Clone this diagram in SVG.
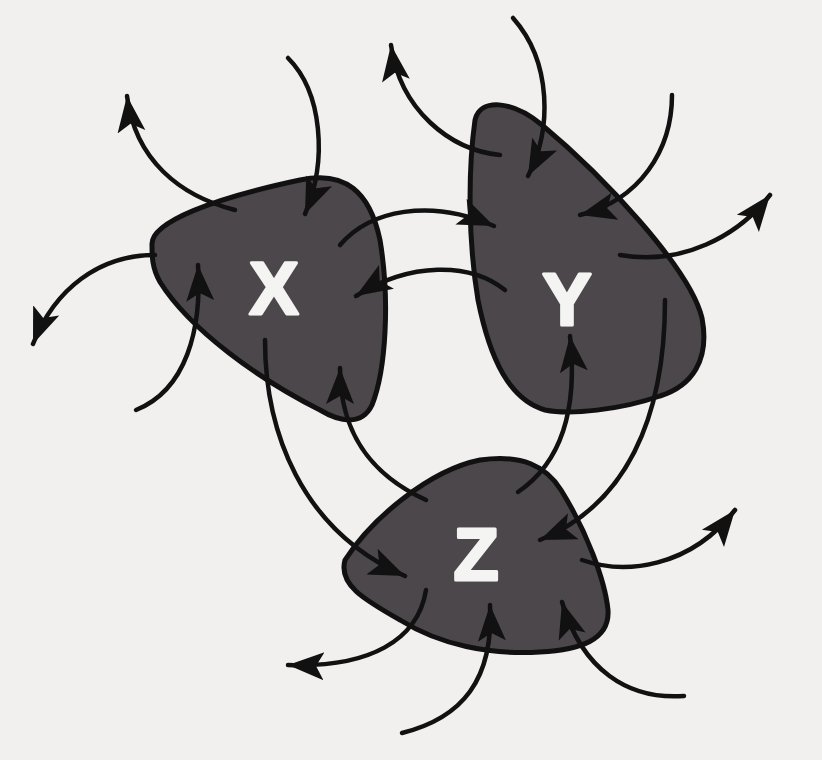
<svg xmlns="http://www.w3.org/2000/svg" width="822" height="760" viewBox="0 0 822 760">
<defs>
<style>
.blob{fill:#4b474b;stroke:#111;stroke-width:5;stroke-linejoin:round}
.lbl{font-family:"Liberation Sans",Arial,sans-serif;font-weight:bold;font-size:74px;fill:#f4f4f2;stroke:#f4f4f2;stroke-width:3;stroke-linejoin:round;text-anchor:middle}
.c{fill:none;stroke:#111;stroke-width:4.5;stroke-linecap:round;marker-end:url(#ah)}
</style>
<marker id="ah" markerUnits="userSpaceOnUse" markerWidth="38" markerHeight="32" viewBox="0 0 38 32" refX="36" refY="16" orient="auto">
<path d="M0,2 L36,16 L0,30 L8,16 Z" fill="#111"/>
</marker>
</defs>
<rect width="822" height="760" fill="#f1f0ee"/>
<g id="node-x">
<path class="blob" d="M152,245 C150,222 215,198 300,180 C345,170 370,192 380,240 C390,300 386,370 372,405 C362,426 340,422 320,410 C260,380 190,330 160,282 C152,268 152,256 152,245 Z"/>
<text class="lbl" x="274" y="314">X</text>
</g>
<g id="node-y">
<path class="blob" d="M475,120 C480,98 512,100 542,125 C602,175 690,268 702,318 C710,360 692,386 660,396 C620,410 570,415 545,410 C510,400 490,360 478,300 C468,240 468,170 475,120 Z"/>
<text class="lbl" x="567" y="325">Y</text>
</g>
<g id="node-z">
<path class="blob" d="M345,560 C372,518 430,470 480,460 C522,454 546,466 561,490 C586,530 605,580 608,610 C610,640 580,650 540,652 C490,655 440,645 400,620 C365,600 338,585 345,560 Z"/>
<text class="lbl" x="476" y="580">Z</text>
</g>
<g id="connectors">
<path class="c" d="M235,210 C180,196 135,160 127,96"/>
<path class="c" d="M288,58 C322,92 328,160 305,214"/>
<path class="c" d="M155,255 C100,255 55,288 33,344"/>
<path class="c" d="M136,410 C186,390 202,330 198,265"/>
<path class="c" d="M340,245 C370,210 430,198 494,226"/>
<path class="c" d="M505,290 C470,262 410,262 356,296"/>
<path class="c" d="M265,340 C265,430 300,530 405,576"/>
<path class="c" d="M426,500 C378,478 340,440 340,368"/>
<path class="c" d="M500,155 C450,150 400,110 391,45"/>
<path class="c" d="M513,18 C552,62 552,130 528,176"/>
<path class="c" d="M672,95 C672,150 640,200 580,215"/>
<path class="c" d="M620,255 C682,266 738,236 770,195"/>
<path class="c" d="M518,492 C562,462 578,410 570,336"/>
<path class="c" d="M665,300 C665,420 625,505 540,540"/>
<path class="c" d="M582,560 C625,575 690,568 735,510"/>
<path class="c" d="M426,590 C418,640 370,668 288,665"/>
<path class="c" d="M402,733 C462,718 494,680 490,605"/>
<path class="c" d="M684,696 C628,700 582,670 562,602"/>
</g>
</svg>
